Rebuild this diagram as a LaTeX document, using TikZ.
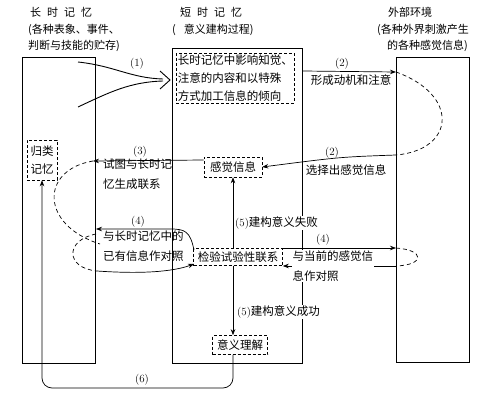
\documentclass[tikz,border=0pt]{standalone}
\usepackage{fontspec}
\newfontfamily\cjk{Noto Sans CJK SC}
\usetikzlibrary{arrows.meta}
\begin{document}
\begin{tikzpicture}[x=1pt,y=-1pt,
  frame/.style={draw, line width=0.8pt, inner sep=0pt, anchor=north west},
  dbox/.style={draw, dash pattern=on 3pt off 2pt, line width=0.6pt, inner sep=1.5pt, fill=white, font=\cjk\fontsize{11.5}{18}\selectfont},
  txt/.style={inner sep=1pt, font=\cjk\fontsize{11.5}{20}\selectfont},
  wtxt/.style={txt, fill=white},
  num/.style={inner sep=1pt, font=\fontsize{11}{13}\selectfont},
  ttl/.style={inner sep=0pt, font=\cjk\fontsize{11}{16}\selectfont, anchor=west},
  arr/.style={-{Stealth[length=6pt,width=4.5pt]}, line width=0.7pt},
  ln/.style={line width=0.7pt},
  dln/.style={line width=0.7pt, dash pattern=on 4pt off 3pt},
]
\useasboundingbox (0,0) rectangle (500,401);
% main frames
\node[frame, minimum width=73pt, minimum height=306pt] (ltm) at (22,57) {};
\node[frame, minimum width=130pt, minimum height=315pt] (stm) at (172,48) {};
\node[frame, minimum width=73pt, minimum height=305pt] (ext) at (396,57) {};
% titles
\node[ttl] (t1) at (30,12) {长\hspace{6pt}时\hspace{6pt}记\hspace{6pt}忆};
\node[ttl] (t1b) at (28,30) {(各种表象、事件、};
\node[ttl] (t1c) at (28,46) {判断与技能的贮存)};
\node[ttl] (t2) at (180,12) {短\hspace{6pt}时\hspace{6pt}记\hspace{6pt}忆};
\node[ttl] (t2b) at (172,30) {(\hspace{8pt}意义建构过程)};
\node[ttl] (t3) at (388,12) {外部环境};
\node[ttl] (t3b) at (377,30) {(各种外界刺激产生};
\node[ttl] (t3c) at (387,46) {的各种感觉信息)};
% inner nodes
\node[dbox, anchor=north west, align=left] (tend) at (176,53) {长时记忆中影响知觉、\\注意的内容和以特殊\\方式加工信息的倾向};
\node[dbox, minimum width=58pt, minimum height=20pt] (sense) at (233,167) {感觉信息};
\node[dbox, align=center, minimum width=30pt, minimum height=40pt] (cls) at (42,160) {归类\\记忆};
\node[dbox, minimum width=89pt, minimum height=17pt] (test) at (238,257) {检验试验性联系};
\node[dbox, minimum width=55pt, minimum height=19pt] (mean) at (240,345) {意义理解};
% coordinates
\coordinate (p1a) at (78,62);
\coordinate (p1b) at (78,107);
\coordinate (p1t) at (170,80);
\coordinate (p1u) at (160,71);
\coordinate (p1d) at (160,89);
\coordinate (p2s) at (stm.east |- 0,71);
\coordinate (p2t) at (ext.west |- 0,72);
\coordinate (p2b) at (ext.west |- 0,155);
\coordinate (p3s) at (sense.north west |- 0,160);
\coordinate (p3t) at (93,161);
\coordinate (p3e) at (100,244);
\coordinate (p4a) at (96,229);
\coordinate (p4b) at (96,234);
\coordinate (p4c) at (97,271);
\coordinate (p4ts) at (194,250);
\coordinate (p4tb) at (194,264);
\coordinate (p4r1) at (test.east |- 0,248);
\coordinate (p4r2) at (test.east |- 0,266);
\coordinate (q4r1) at (ext.west |- 0,248);
\coordinate (q4r2) at (ext.west |- 0,266);
\coordinate (p5a) at (test.north -| 233,0);
\coordinate (p5b) at (sense.south -| 233,0);
\coordinate (p5c) at (test.south -| 233,0);
\coordinate (p5d) at (mean.north -| 233,0);
\coordinate (p6a) at (mean.south -| 233,0);
\coordinate (p6b) at (233,388);
\coordinate (p6c) at (42,388);
% (1)
\draw[ln, line width=0.9pt] (p1a) .. controls (115,66) and (130,78) .. (163,79);
\draw[ln, line width=0.9pt] (p1b) .. controls (110,92) and (130,82) .. (163,81);
\draw[line width=0.9pt] (p1u) -- (p1t) -- (p1d);
\node[num] (n1) at (137,64) {(1)};
% (2)
\draw[arr] (p2s) -- (p2t);
\draw[dln] (p2t) .. controls (460,95) and (455,150) .. (p2b);
\draw[arr] (p2b) .. controls (340,157) .. (sense.east);
\node[num] (n2a) at (342,64) {(2)};
\node[txt] (l2a) at (351,80) {形成动机和注意};
\node[num] (n2b) at (332,153) {(2)};
\node[txt] (l2b) at (346,170) {选择出感觉信息};
% (3)
\draw[arr] (p3s) -- (p3t);
\draw[dln] (p3t) .. controls (40,170) and (40,225) .. (p3e);
\node[num] (n3) at (140,152) {(3)};
\node[txt, anchor=north west, align=left] (l3) at (102,158) {试图与长时记\\忆生成联系};
% (4) left
\draw[arr] (p4ts) .. controls (190,231) and (185,229) .. (170,229) -- (p4a);
\draw[dln] (p4b) .. controls (65,240) and (65,268) .. (p4c);
\draw[arr] (p4c) .. controls (140,274) and (172,272) .. (p4tb);
\node[num] (n4a) at (138,222) {(4)};
\node[txt, anchor=north west, align=left] (l4a) at (102,230) {与长时记忆中的\\已有信息作对照};
% (4) right
\draw[arr] (p4r1) -- (q4r1);
\draw[dln] (q4r1) .. controls (425,250) and (425,265) .. (q4r2);
\draw[arr] (q4r2) -- (p4r2);
\node[num] (n4b) at (323,240) {(4)};
\node[wtxt, anchor=north west, align=left, inner sep=0.5pt] (l4b) at (292,250) {与当前的感觉信\\息作对照};
% (5)
\draw[arr] (p5a) -- (p5b);
\node[wtxt, anchor=west] (l5a) at (234,223) {\normalfont\fontsize{11}{13}\selectfont(5)\cjk\fontsize{11.5}{14}\selectfont 建构意义失败};
\draw[arr] (p5c) -- (p5d);
\node[wtxt, anchor=west] (l5b) at (236,312) {\normalfont\fontsize{11}{13}\selectfont(5)\cjk\fontsize{11.5}{14}\selectfont 建构意义成功};
% (6)
\draw[arr, rounded corners=10pt] (p6a) -- (p6b) -- (p6c) -- (cls.south);
\node[num] (n6) at (142,380) {(6)};
\end{tikzpicture}
\end{document}
